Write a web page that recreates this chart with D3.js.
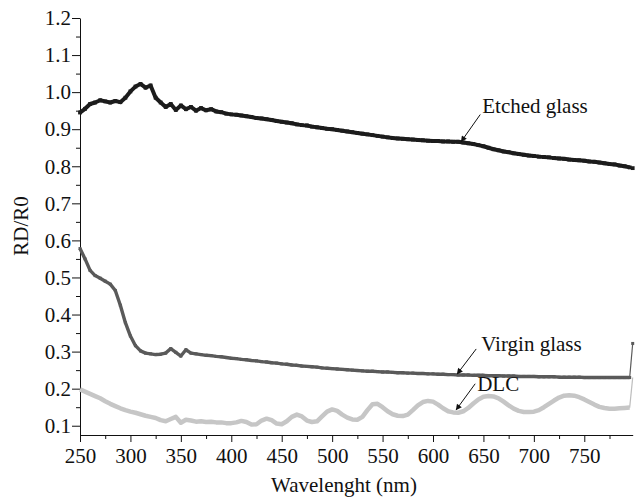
<!DOCTYPE html>
<html>
<head>
<meta charset="utf-8">
<script src="https://cdn.jsdelivr.net/npm/d3@7"></script>
<style>
  body { margin: 0; background: #fff; }
</style>
</head>
<body>
<div id="chart"></div>
<script>
// DATA
const wavelength = [250,255,260,265,270,275,280,285,290,295,300,305,310,315,320,325,330,335,340,345,
  350,355,360,365,370,375,380,385,390,395,400,405,410,415,420,425,430,435,440,445,
  450,455,460,465,470,475,480,485,490,495,500,505,510,515,520,525,530,535,540,545,
  550,555,560,565,570,575,580,585,590,595,600,605,610,615,620,625,630,635,640,645,
  650,655,660,665,670,675,680,685,690,695,700,705,710,715,720,725,730,735,740,745,
  750,755,760,765,770,775,780,785,790,795,798];

const etched = [0.945,0.955,0.968,0.972,0.978,0.975,0.972,0.976,0.973,0.985,1.002,1.015,1.022,1.012,1.018,0.985,0.972,0.960,0.968,0.952,
  0.964,0.954,0.960,0.950,0.957,0.951,0.954,0.948,0.946,0.942,0.940,0.939,0.937,0.935,0.933,0.930,0.929,0.927,0.925,0.922,
  0.920,0.918,0.916,0.913,0.911,0.910,0.907,0.905,0.903,0.901,0.900,0.898,0.896,0.894,0.892,0.890,0.888,0.886,0.884,0.882,
  0.880,0.878,0.876,0.875,0.874,0.873,0.872,0.871,0.870,0.869,0.868,0.868,0.867,0.867,0.866,0.866,0.864,0.862,0.860,0.857,
  0.854,0.850,0.846,0.843,0.840,0.838,0.835,0.833,0.831,0.829,0.828,0.826,0.825,0.824,0.822,0.821,0.820,0.818,0.817,0.816,
  0.815,0.813,0.812,0.810,0.808,0.806,0.805,0.802,0.800,0.797,0.795];

const virgin = [0.578,0.550,0.519,0.505,0.498,0.490,0.482,0.465,0.425,0.378,0.342,0.316,0.302,0.296,0.294,0.292,0.293,0.296,0.308,0.298,
  0.288,0.305,0.296,0.294,0.292,0.290,0.289,0.287,0.286,0.284,0.282,0.281,0.279,0.278,0.276,0.275,0.273,0.272,0.270,0.269,
  0.267,0.266,0.264,0.263,0.261,0.260,0.259,0.258,0.256,0.255,0.254,0.253,0.252,0.251,0.250,0.249,0.248,0.247,0.247,0.246,
  0.245,0.245,0.244,0.243,0.243,0.242,0.242,0.241,0.241,0.240,0.240,0.239,0.239,0.238,0.238,0.237,0.237,0.237,0.236,0.236,
  0.236,0.235,0.235,0.235,0.234,0.234,0.234,0.233,0.233,0.233,0.233,0.232,0.232,0.232,0.232,0.231,0.231,0.231,0.231,0.231,
  0.230,0.230,0.230,0.230,0.230,0.230,0.230,0.230,0.230,0.230,0.322];

const dlc = [0.198,0.192,0.186,0.180,0.174,0.166,0.159,0.153,0.147,0.142,0.138,0.135,0.131,0.127,0.124,0.121,0.115,0.112,0.118,0.124,
  0.108,0.116,0.114,0.111,0.112,0.110,0.111,0.109,0.109,0.107,0.107,0.109,0.113,0.110,0.103,0.104,0.114,0.119,0.115,0.106,
  0.104,0.112,0.124,0.130,0.125,0.114,0.110,0.112,0.125,0.138,0.144,0.140,0.130,0.122,0.117,0.116,0.124,0.142,0.158,0.159,
  0.150,0.139,0.131,0.127,0.126,0.130,0.142,0.155,0.164,0.167,0.165,0.157,0.147,0.139,0.136,0.135,0.139,0.148,0.160,0.171,
  0.178,0.180,0.179,0.174,0.165,0.155,0.146,0.140,0.137,0.137,0.138,0.142,0.150,0.159,0.168,0.176,0.181,0.182,0.181,0.177,
  0.171,0.164,0.157,0.151,0.148,0.146,0.146,0.147,0.148,0.149,0.230];

const xMajor = [250,300,350,400,450,500,550,600,650,700,750];
const xMinor = [275,325,375,425,475,525,575,625,675,725,775];
const yMajor = [0.1,0.2,0.3,0.4,0.5,0.6,0.7,0.8,0.9,1.0,1.1,1.2];
const yMinor = [0.15,0.25,0.35,0.45,0.55,0.65,0.75,0.85,0.95,1.05,1.15];

const series = [
  { name: "Etched glass", values: etched, color: "#1c1c1c", width: 4, marker: 3.8, tipAt: 628, tip: [0, -1], tail: [19, -27], text: [21, -29] },
  { name: "Virgin glass", values: virgin, color: "#5a5a5a", width: 3.4, marker: 3, tipAt: 624, tip: [0, -1], tail: [19, -25], text: [24, -23] },
  { name: "DLC", values: dlc, color: "#c6c6c6", width: 4.5, marker: 0, tipAt: 623, tip: [0, -3], tail: [19, -26], text: [21, -19] }
];

const W = 636, H = 500;
const FONT = "'Liberation Serif', 'Times New Roman', Times, serif";
const svg = d3.select("#chart").append("svg").attr("width", W).attr("height", H)
  .attr("font-family", FONT).style("font-family", FONT);

// SCALES
const x = d3.scaleLinear().domain([250, 798]).range([80, 632.7]);
const y = d3.scaleLinear().domain([0.075, 1.2]).range([435, 18]);

// AXES
const fmt = d3.format(".1f");
svg.append("g").attr("transform", "translate(0,435)")
  .call(d3.axisBottom(x).tickValues(xMajor).tickSize(7).tickSizeOuter(0).tickPadding(6).tickFormat(d3.format("d")))
  .call(g => g.attr("font-family", FONT).selectAll("text").attr("font-size", 21).attr("fill", "#111"));
svg.append("g").attr("transform", "translate(0,435)")
  .call(d3.axisBottom(x).tickValues(xMinor).tickSize(4).tickFormat(""))
  .call(g => g.select(".domain").remove());

svg.append("g").attr("transform", "translate(80,0)")
  .call(d3.axisLeft(y).tickValues(yMajor).tickSize(8).tickSizeOuter(0).tickPadding(1).tickFormat(fmt))
  .call(g => g.attr("font-family", FONT).selectAll("text").attr("font-size", 21).attr("fill", "#111"));
svg.append("g").attr("transform", "translate(80,0)")
  .call(d3.axisLeft(y).tickValues(yMinor).tickSize(4).tickFormat(""))
  .call(g => g.select(".domain").remove());

svg.selectAll(".domain, .tick line").attr("stroke", "#111");

// AXIS TITLES
svg.append("text").attr("x", 344).attr("y", 492).attr("text-anchor", "middle")
  .attr("font-size", 21).attr("fill", "#111").text("Wavelenght (nm)");
svg.append("text").attr("transform", "translate(28,226) rotate(-90)").attr("text-anchor", "middle")
  .attr("font-size", 21).attr("fill", "#111").text("RD/R0");

// SERIES
const line = d3.line().x(d => x(d[0])).y(d => y(d[1]));
const plot = svg.append("g");
series.forEach(s => {
  const pts = wavelength.map((w, i) => [w, s.values[i]]);
  const body = pts.slice(0, -1), tail = pts.slice(-2);
  plot.append("path").datum(body).attr("d", line)
    .attr("fill", "none").attr("stroke", s.color).attr("stroke-width", s.width)
    .attr("stroke-linejoin", "round");
  plot.append("path").datum(tail).attr("d", line)
    .attr("fill", "none").attr("stroke", s.color === "#c6c6c6" ? "#bdbdbd" : s.color).attr("stroke-width", 1.2);
  if (s.marker > 0) {
    plot.selectAll(null).data(pts).join("rect")
      .attr("x", d => x(d[0]) - s.marker / 2).attr("y", d => y(d[1]) - s.marker / 2)
      .attr("width", s.marker).attr("height", s.marker).attr("fill", s.color);
  }
});

// ANNOTATIONS
svg.append("defs").append("marker").attr("id", "arrow")
  .attr("viewBox", "0 0 10 10").attr("refX", 9).attr("refY", 5)
  .attr("markerWidth", 8).attr("markerHeight", 6).attr("markerUnits", "userSpaceOnUse")
  .attr("orient", "auto")
  .append("path").attr("d", "M0,0L10,5L0,10z").attr("fill", "#111");

series.forEach(s => {
  const i = wavelength.findIndex(w => w >= s.tipAt);
  const px = x(s.tipAt) + s.tip[0], py = y(s.values[i]) + s.tip[1];
  svg.append("line")
    .attr("x1", px + s.tail[0]).attr("y1", py + s.tail[1])
    .attr("x2", px).attr("y2", py)
    .attr("stroke", "#111").attr("stroke-width", 1).attr("marker-end", "url(#arrow)");
  svg.append("text").attr("x", px + s.text[0]).attr("y", py + s.text[1])
    .attr("font-size", 21).attr("fill", "#111").text(s.name);
});
</script>
</body>
</html>
